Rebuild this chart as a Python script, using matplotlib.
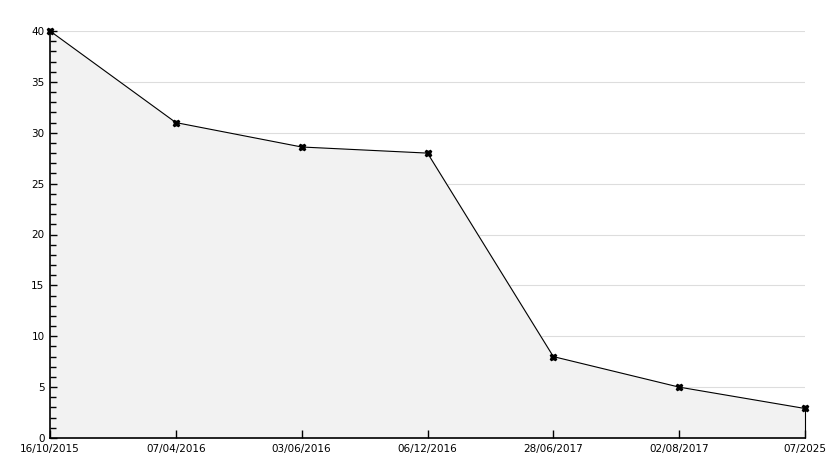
import matplotlib
matplotlib.use("Agg")
import matplotlib.pyplot as plt
from matplotlib.ticker import MultipleLocator

dates = ["16/10/2015", "07/04/2016", "03/06/2016", "06/12/2016", "28/06/2017", "02/08/2017", "07/2025"]
values = [40, 31, 28.6, 28, 8, 5, 2.9]
grid_levels = [5, 10, 15, 20, 25, 30, 35, 40]

fig = plt.figure(figsize=(8.34, 4.68), dpi=100)
ax = fig.add_axes([50/834, 30/468, 755/834, 407/468])
x = list(range(len(dates)))

for g in grid_levels:
    ax.axhline(g, color="#dddddd", lw=0.8, zorder=0.1)
ax.fill_between(x, values, 0, color="#f2f2f2", zorder=0.5)
ax.plot(x, values, color="black", lw=0.8, zorder=3, clip_on=False)
ax.plot(x, values, linestyle="none", marker="X", markersize=5, color="black", zorder=4, clip_on=False)
ax.vlines(x[-1], 0, values[-1], color="black", lw=0.8, zorder=3, clip_on=False)

ax.set_xlim(0, len(dates) - 1)
ax.set_ylim(0, 40)
ax.set_xticks(x)
ax.set_xticklabels(dates)
ax.yaxis.set_major_locator(MultipleLocator(5))
ax.yaxis.set_minor_locator(MultipleLocator(1))
ax.set_axisbelow(False)

for s in ["top", "right"]:
    ax.spines[s].set_visible(False)
for s in ["left", "bottom"]:
    ax.spines[s].set_linewidth(1.2)
    ax.spines[s].set_color("black")

ax.tick_params(axis="y", which="major", direction="in", length=5, width=1, labelsize=7.5, pad=4)
ax.tick_params(axis="y", which="minor", direction="in", length=4, width=1)
ax.tick_params(axis="x", which="major", direction="in", length=6, width=1, labelsize=7.5, pad=4)

fig.savefig("out.png", dpi=100)
